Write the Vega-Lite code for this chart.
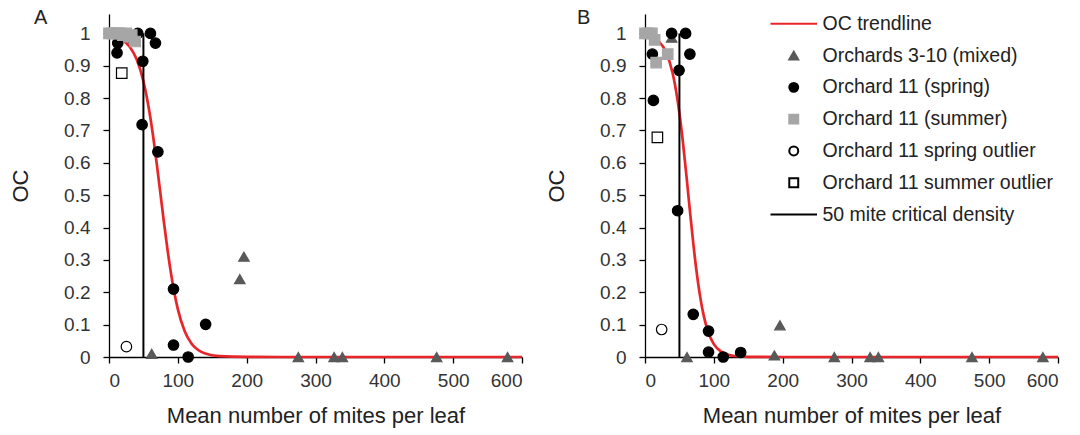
{
  "$schema": "https://vega.github.io/schema/vega-lite/v6.json",
  "background": "white",
  "padding": {"left": 9, "top": 8, "right": 5, "bottom": 5},
  "config": {
    "font": "Liberation Sans",
    "view": {"stroke": null},
    "axis": {
      "grid": false, "domainColor": "#000000", "tickColor": "#000000",
      "domainWidth": 1.3, "tickWidth": 1.3, "tickSize": 6,
      "labelFontSize": 19, "labelColor": "#333333", "labelFont": "Liberation Sans",
      "titleFontSize": 22, "titleFontWeight": "normal", "titleColor": "#222222", "titleFont": "Liberation Sans"
    },
    "title": {"fontSize": 20, "fontWeight": "normal", "anchor": "start", "frame": "group", "color": "#222222"}
  },
  "datasets": {
    "pts": [
      {"panel": "A", "series": "Orchards 3-10 (mixed)", "x": 36, "y": 0.985},
      {"panel": "A", "series": "Orchards 3-10 (mixed)", "x": 62, "y": 0.01},
      {"panel": "A", "series": "Orchards 3-10 (mixed)", "x": 190, "y": 0.241},
      {"panel": "A", "series": "Orchards 3-10 (mixed)", "x": 196, "y": 0.31},
      {"panel": "A", "series": "Orchards 3-10 (mixed)", "x": 275, "y": 0},
      {"panel": "A", "series": "Orchards 3-10 (mixed)", "x": 327, "y": 0},
      {"panel": "A", "series": "Orchards 3-10 (mixed)", "x": 339, "y": 0},
      {"panel": "A", "series": "Orchards 3-10 (mixed)", "x": 476, "y": 0},
      {"panel": "A", "series": "Orchards 3-10 (mixed)", "x": 579, "y": 0},
      {"panel": "A", "series": "Orchard 11 (spring)", "x": 12.7, "y": 0.97},
      {"panel": "A", "series": "Orchard 11 (spring)", "x": 11.7, "y": 0.94},
      {"panel": "A", "series": "Orchard 11 (spring)", "x": 41.8, "y": 1.0},
      {"panel": "A", "series": "Orchard 11 (spring)", "x": 60.2, "y": 1.0},
      {"panel": "A", "series": "Orchard 11 (spring)", "x": 67.5, "y": 0.97},
      {"panel": "A", "series": "Orchard 11 (spring)", "x": 49.1, "y": 0.914},
      {"panel": "A", "series": "Orchard 11 (spring)", "x": 48.1, "y": 0.718},
      {"panel": "A", "series": "Orchard 11 (spring)", "x": 71, "y": 0.634},
      {"panel": "A", "series": "Orchard 11 (spring)", "x": 93.7, "y": 0.21},
      {"panel": "A", "series": "Orchard 11 (spring)", "x": 140.4, "y": 0.101},
      {"panel": "A", "series": "Orchard 11 (spring)", "x": 93.7, "y": 0.037},
      {"panel": "A", "series": "Orchard 11 (spring)", "x": 115, "y": 0},
      {"panel": "A", "series": "Orchard 11 (summer)", "x": 0, "y": 1},
      {"panel": "A", "series": "Orchard 11 (summer)", "x": 4, "y": 1},
      {"panel": "A", "series": "Orchard 11 (summer)", "x": 8, "y": 1},
      {"panel": "A", "series": "Orchard 11 (summer)", "x": 12, "y": 1},
      {"panel": "A", "series": "Orchard 11 (summer)", "x": 16, "y": 1},
      {"panel": "A", "series": "Orchard 11 (summer)", "x": 20, "y": 0.995},
      {"panel": "A", "series": "Orchard 11 (summer)", "x": 25, "y": 1},
      {"panel": "A", "series": "Orchard 11 (summer)", "x": 29, "y": 0.99},
      {"panel": "A", "series": "Orchard 11 (summer)", "x": 33, "y": 0.995},
      {"panel": "A", "series": "Orchard 11 (summer)", "x": 38, "y": 0.975},
      {"panel": "A", "series": "Orchard 11 spring outlier", "x": 25.3, "y": 0.032},
      {"panel": "A", "series": "Orchard 11 summer outlier", "x": 18.5, "y": 0.877},
      {"panel": "B", "series": "Orchards 3-10 (mixed)", "x": 38.7, "y": 0.987},
      {"panel": "B", "series": "Orchards 3-10 (mixed)", "x": 61, "y": 0},
      {"panel": "B", "series": "Orchards 3-10 (mixed)", "x": 188, "y": 0.005},
      {"panel": "B", "series": "Orchards 3-10 (mixed)", "x": 196, "y": 0.098},
      {"panel": "B", "series": "Orchards 3-10 (mixed)", "x": 275, "y": 0},
      {"panel": "B", "series": "Orchards 3-10 (mixed)", "x": 327, "y": 0},
      {"panel": "B", "series": "Orchards 3-10 (mixed)", "x": 339, "y": 0},
      {"panel": "B", "series": "Orchards 3-10 (mixed)", "x": 475, "y": 0},
      {"panel": "B", "series": "Orchards 3-10 (mixed)", "x": 578, "y": 0},
      {"panel": "B", "series": "Orchard 11 (spring)", "x": 10.7, "y": 0.936},
      {"panel": "B", "series": "Orchard 11 (spring)", "x": 12.2, "y": 0.793},
      {"panel": "B", "series": "Orchard 11 (spring)", "x": 38.7, "y": 1.0},
      {"panel": "B", "series": "Orchard 11 (spring)", "x": 59, "y": 1.0},
      {"panel": "B", "series": "Orchard 11 (spring)", "x": 65.2, "y": 0.936},
      {"panel": "B", "series": "Orchard 11 (spring)", "x": 49.5, "y": 0.886},
      {"panel": "B", "series": "Orchard 11 (spring)", "x": 47.4, "y": 0.452},
      {"panel": "B", "series": "Orchard 11 (spring)", "x": 70.1, "y": 0.132},
      {"panel": "B", "series": "Orchard 11 (spring)", "x": 92.3, "y": 0.08},
      {"panel": "B", "series": "Orchard 11 (spring)", "x": 92.3, "y": 0.015},
      {"panel": "B", "series": "Orchard 11 (spring)", "x": 113.6, "y": 0},
      {"panel": "B", "series": "Orchard 11 (spring)", "x": 139, "y": 0.014},
      {"panel": "B", "series": "Orchard 11 (summer)", "x": 0, "y": 1},
      {"panel": "B", "series": "Orchard 11 (summer)", "x": 5, "y": 1},
      {"panel": "B", "series": "Orchard 11 (summer)", "x": 10, "y": 1},
      {"panel": "B", "series": "Orchard 11 (summer)", "x": 14, "y": 0.98},
      {"panel": "B", "series": "Orchard 11 (summer)", "x": 33, "y": 0.936},
      {"panel": "B", "series": "Orchard 11 (summer)", "x": 16.2, "y": 0.91},
      {"panel": "B", "series": "Orchard 11 spring outlier", "x": 24.2, "y": 0.085},
      {"panel": "B", "series": "Orchard 11 summer outlier", "x": 18, "y": 0.679}
    ],
    "trend": [
      {"panel": "A", "x": 0, "y": 0.9948}, {"panel": "A", "x": 10, "y": 0.9895}, {"panel": "A", "x": 20, "y": 0.9792},
      {"panel": "A", "x": 30, "y": 0.9589}, {"panel": "A", "x": 40, "y": 0.9206}, {"panel": "A", "x": 50, "y": 0.852},
      {"panel": "A", "x": 55, "y": 0.8022}, {"panel": "A", "x": 60, "y": 0.7408}, {"panel": "A", "x": 65, "y": 0.6682},
      {"panel": "A", "x": 70, "y": 0.5866}, {"panel": "A", "x": 75, "y": 0.5}, {"panel": "A", "x": 80, "y": 0.4134},
      {"panel": "A", "x": 85, "y": 0.3318}, {"panel": "A", "x": 90, "y": 0.2592}, {"panel": "A", "x": 95, "y": 0.1978},
      {"panel": "A", "x": 100, "y": 0.148}, {"panel": "A", "x": 110, "y": 0.0794}, {"panel": "A", "x": 120, "y": 0.0411},
      {"panel": "A", "x": 130, "y": 0.0208}, {"panel": "A", "x": 140, "y": 0.0105}, {"panel": "A", "x": 160, "y": 0.0026},
      {"panel": "A", "x": 200, "y": 0.0002}, {"panel": "A", "x": 300, "y": 0}, {"panel": "A", "x": 450, "y": 0},
      {"panel": "A", "x": 600, "y": 0},
      {"panel": "B", "x": 0, "y": 0.9956}, {"panel": "B", "x": 10, "y": 0.9896}, {"panel": "B", "x": 20, "y": 0.9758},
      {"panel": "B", "x": 30, "y": 0.9447}, {"panel": "B", "x": 40, "y": 0.8784}, {"panel": "B", "x": 45, "y": 0.8246},
      {"panel": "B", "x": 50, "y": 0.7536}, {"panel": "B", "x": 55, "y": 0.6655}, {"panel": "B", "x": 60, "y": 0.5641},
      {"panel": "B", "x": 65, "y": 0.4571}, {"panel": "B", "x": 70, "y": 0.3539}, {"panel": "B", "x": 75, "y": 0.2627},
      {"panel": "B", "x": 80, "y": 0.1882}, {"panel": "B", "x": 85, "y": 0.131}, {"panel": "B", "x": 90, "y": 0.0893},
      {"panel": "B", "x": 95, "y": 0.06}, {"panel": "B", "x": 100, "y": 0.0399}, {"panel": "B", "x": 110, "y": 0.0173},
      {"panel": "B", "x": 120, "y": 0.0074}, {"panel": "B", "x": 130, "y": 0.0031}, {"panel": "B", "x": 150, "y": 0.0006},
      {"panel": "B", "x": 200, "y": 0}, {"panel": "B", "x": 400, "y": 0}, {"panel": "B", "x": 600, "y": 0}
    ],
    "crit": [
      {"panel": "A", "x": 50, "y": 0, "y2": 1},
      {"panel": "B", "x": 50, "y": 0, "y2": 1}
    ]
  },
  "spacing": 123,
  "bounds": "flush",
  "resolve": {
    "scale": {"shape": "independent", "fill": "independent", "stroke": "independent"},
    "legend": {"shape": "independent", "fill": "independent", "stroke": "independent"}
  },
  "hconcat": [
    {
      "width": 413, "height": 343,
      "title": {"text": "A", "offset": 0, "dx": -75, "dy": 14},
      "encoding": {
        "x": {"field": "x", "type": "quantitative", "scale": {"domain": [0, 600], "nice": false},
              "axis": {"title": "Mean number of mites per leaf", "values": [0, 100, 200, 300, 400, 500, 600], "format": "d", "labelPadding": 8, "titleY": 48}},
        "y": {"field": "y", "type": "quantitative", "scale": {"domain": [0, 1.06], "nice": false},
              "axis": {"title": "OC", "values": [0, 0.1, 0.2, 0.3, 0.4, 0.5, 0.6, 0.7, 0.8, 0.9, 1], "format": "~g", "labelPadding": 13, "titleX": -77}}
      },
      "layer": [
        {"data": {"name": "trend"}, "transform": [{"filter": "datum.panel === 'A'"}],
         "mark": {"type": "line", "color": "#e8262a", "strokeWidth": 2.7, "interpolate": "monotone"}},
        {"data": {"name": "crit"}, "transform": [{"filter": "datum.panel === 'A'"}],
         "mark": {"type": "rule", "color": "#000000", "strokeWidth": 2},
         "encoding": {"y2": {"field": "y2"}}},
        {"data": {"name": "pts"}, "transform": [{"filter": "datum.panel === 'A'"}],
         "mark": {"type": "point", "filled": true, "opacity": 1, "size": 110, "strokeWidth": 1.2},
         "encoding": {
           "shape": {"field": "series", "type": "nominal", "legend": null,
             "scale": {"domain": ["OC trendline", "Orchards 3-10 (mixed)", "Orchard 11 (spring)", "Orchard 11 (summer)", "Orchard 11 spring outlier", "Orchard 11 summer outlier", "50 mite critical density"],
                       "range": ["M-5.2,0H5.2", "triangle-up", "circle", "square", "circle", "square", "M-5.2,0H5.2"]}},
           "fill": {"field": "series", "type": "nominal", "legend": null,
             "scale": {"domain": ["OC trendline", "Orchards 3-10 (mixed)", "Orchard 11 (spring)", "Orchard 11 (summer)", "Orchard 11 spring outlier", "Orchard 11 summer outlier", "50 mite critical density"],
                       "range": ["transparent", "#595959", "#000000", "#a6a6a6", "#ffffff", "#ffffff", "transparent"]}},
           "stroke": {"field": "series", "type": "nominal", "legend": null,
             "scale": {"domain": ["OC trendline", "Orchards 3-10 (mixed)", "Orchard 11 (spring)", "Orchard 11 (summer)", "Orchard 11 spring outlier", "Orchard 11 summer outlier", "50 mite critical density"],
                       "range": ["#e8262a", "#595959", "#000000", "#a6a6a6", "#000000", "#000000", "#000000"]}}
         }}
      ]
    },
    {
      "width": 413, "height": 343,
      "title": {"text": "B", "offset": 0, "dx": -68, "dy": 14},
      "encoding": {
        "x": {"field": "x", "type": "quantitative", "scale": {"domain": [0, 600], "nice": false},
              "axis": {"title": "Mean number of mites per leaf", "values": [0, 100, 200, 300, 400, 500, 600], "format": "d", "labelPadding": 8, "titleY": 48}},
        "y": {"field": "y", "type": "quantitative", "scale": {"domain": [0, 1.06], "nice": false},
              "axis": {"title": "OC", "values": [0, 0.1, 0.2, 0.3, 0.4, 0.5, 0.6, 0.7, 0.8, 0.9, 1], "format": "~g", "labelPadding": 13, "titleX": -77}}
      },
      "layer": [
        {"data": {"name": "trend"}, "transform": [{"filter": "datum.panel === 'B'"}],
         "mark": {"type": "line", "color": "#e8262a", "strokeWidth": 2.7, "interpolate": "monotone"}},
        {"data": {"name": "crit"}, "transform": [{"filter": "datum.panel === 'B'"}],
         "mark": {"type": "rule", "color": "#000000", "strokeWidth": 2},
         "encoding": {"y2": {"field": "y2"}}},
        {"data": {"name": "pts"}, "transform": [{"filter": "datum.panel === 'B'"}],
         "mark": {"type": "point", "filled": true, "opacity": 1, "size": 110, "strokeWidth": 1.2},
         "encoding": {
           "shape": {"field": "series", "type": "nominal",
             "scale": {"domain": ["OC trendline", "Orchards 3-10 (mixed)", "Orchard 11 (spring)", "Orchard 11 (summer)", "Orchard 11 spring outlier", "Orchard 11 summer outlier", "50 mite critical density"],
                       "range": ["M-5.2,0H5.2", "triangle-up", "circle", "square", "circle", "square", "M-5.2,0H5.2"]},
             "legend": {"title": null, "orient": "none", "legendX": 139, "legendY": 0, "labelFontSize": 19.5, "labelColor": "#222222", "labelFont": "Liberation Sans", "symbolSize": 80, "symbolStrokeWidth": 2, "labelOffset": 19, "rowPadding": 10.8, "labelLimit": 400}},
           "fill": {"field": "series", "type": "nominal",
             "scale": {"domain": ["OC trendline", "Orchards 3-10 (mixed)", "Orchard 11 (spring)", "Orchard 11 (summer)", "Orchard 11 spring outlier", "Orchard 11 summer outlier", "50 mite critical density"],
                       "range": ["transparent", "#595959", "#000000", "#a6a6a6", "#ffffff", "#ffffff", "transparent"]},
             "legend": {"title": null, "orient": "none", "legendX": 139, "legendY": 0, "labelFontSize": 19.5, "labelColor": "#222222", "labelFont": "Liberation Sans", "symbolSize": 80, "symbolStrokeWidth": 2, "labelOffset": 19, "rowPadding": 10.8, "labelLimit": 400}},
           "stroke": {"field": "series", "type": "nominal",
             "scale": {"domain": ["OC trendline", "Orchards 3-10 (mixed)", "Orchard 11 (spring)", "Orchard 11 (summer)", "Orchard 11 spring outlier", "Orchard 11 summer outlier", "50 mite critical density"],
                       "range": ["#e8262a", "#595959", "#000000", "#a6a6a6", "#000000", "#000000", "#000000"]},
             "legend": {"title": null, "orient": "none", "legendX": 139, "legendY": 0, "labelFontSize": 19.5, "labelColor": "#222222", "labelFont": "Liberation Sans", "symbolSize": 80, "symbolStrokeWidth": 2, "labelOffset": 19, "rowPadding": 10.8, "labelLimit": 400}}
         }}
      ]
    }
  ]
}
